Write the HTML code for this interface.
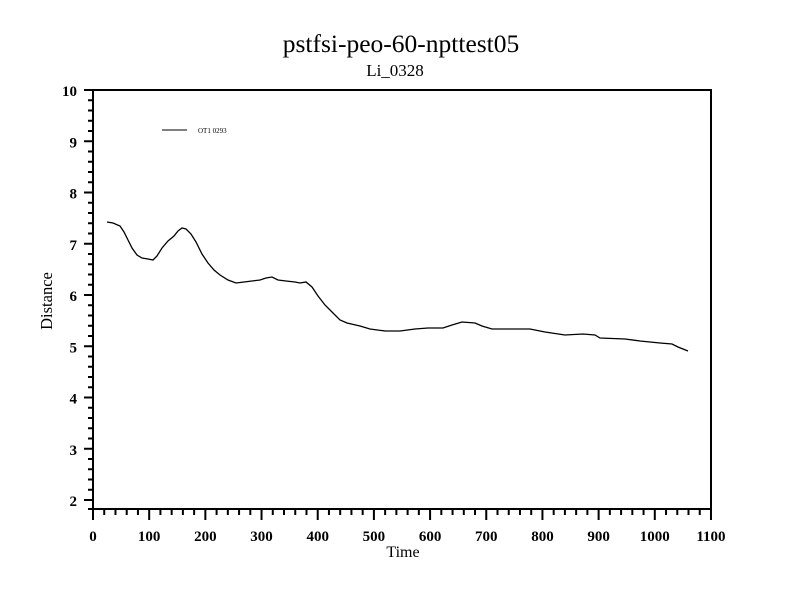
<!DOCTYPE html>
<html><head><meta charset="utf-8"><style>body{margin:0;background:#fff}svg{display:block}</style></head>
<body>
<svg width="800" height="600" xmlns="http://www.w3.org/2000/svg" font-family="Liberation Serif, serif">
<rect width="800" height="600" fill="#fff"/>
<text x="401" y="52" font-size="25.5" text-anchor="middle">pstfsi-peo-60-npttest05</text>
<text x="395" y="76" font-size="17" text-anchor="middle">Li_0328</text>
<rect x="93" y="90" width="618" height="419" fill="none" stroke="#000" stroke-width="2"/>
<g stroke="#000" stroke-width="2" id="ticks"></g>
<g font-size="15" font-weight="bold" id="labels"></g>
<text x="403" y="557" font-size="16" text-anchor="middle">Time</text>
<text transform="translate(52,301) rotate(-90)" font-size="16.5" text-anchor="middle">Distance</text>
<line x1="162" y1="130" x2="187" y2="130" stroke="#000" stroke-width="1"/>
<text x="198" y="133" font-size="7">OT1 0293</text>
<polyline fill="none" stroke="#000" stroke-width="1.3" points="107,222 113,223 120,226 124,232 128,240 132,248 137,255 142,258 148,259 153,260 157,256 162,248 168,241 174,236 178,231 182,228 186,229 191,234 196,242 202,254 208,263 214,270 220,275 228,280 236,283 244,282 252,281 260,280 266,278 272,277 278,280 286,281 295,282 300,283 306,282 312,287 318,296 325,305 333,313 340,320 347,323 360,326 370,329 385,331 400,331 415,329 428,328 443,328 452,325 462,322 475,323 482,326 492,329 505,329 530,329 545,332 565,335 583,334 595,335 600,338 625,339 640,341 660,343 672,344 678,347 688,351"/>
<script>
var t=document.getElementById('ticks'),l=document.getElementById('labels'),ns='http://www.w3.org/2000/svg';
function ln(a,b,c,d){var e=document.createElementNS(ns,'line');e.setAttribute('x1',a);e.setAttribute('y1',b);e.setAttribute('x2',c);e.setAttribute('y2',d);t.appendChild(e);}
function tx(x,y,s,a){var e=document.createElementNS(ns,'text');e.setAttribute('x',x);e.setAttribute('y',y);e.setAttribute('text-anchor',a);e.textContent=s;l.appendChild(e);}
for(var i=0;i<=55;i++){var x=93+i*20*0.5618;var maj=i%5==0;ln(x,509,x,maj?520:515);if(maj)tx(x,541,String(i*20),'middle');}
for(var i=0;i<=40;i++){var v=2+i*0.2;var y=500-(v-2)*51.25;var maj=i%5==0;ln(93,y,maj?84:88,y);if(maj)tx(77,y+6,String(Math.round(v)),'end');}
ln(88,509,93,509);
</script>
</svg>
</body></html>
